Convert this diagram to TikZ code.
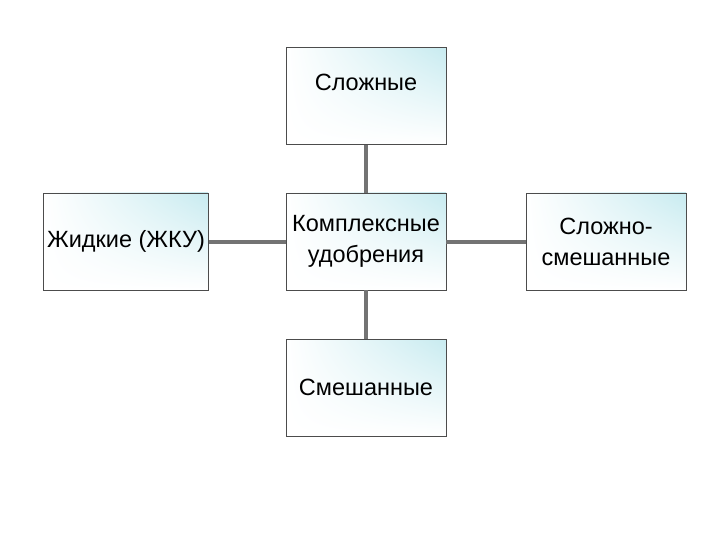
\documentclass[tikz,border=0pt]{standalone}
\usepackage{fontspec}
\setmainfont{Liberation Sans}
\usetikzlibrary{shadings}
\definecolor{lc}{RGB}{200,235,240}
\begin{document}
\begin{tikzpicture}[x=1pt,y=-1pt,
  bx/.style={draw=black!70,line width=0.8pt,minimum width=160pt,minimum height=97pt,align=center,font=\fontsize{23.5}{31}\selectfont,
    upper right=lc,upper left=white,lower left=white,lower right=white},
  ln/.style={draw=black!55,line width=4pt}]
\useasboundingbox (0,0) rectangle (720,540);
\node[bx] (c) at (366,241.5) {Комплексные\\удобрения};
\node[bx,text depth=28pt] (t) at (366,96) {Сложные};
\node[bx] (b) at (366,387.5) {Смешанные};
\node[bx] (l) at (126,241.5) {Жидкие (ЖКУ)};
\node[bx] (r) at (606,241.5) {Сложно-\\смешанные};
\draw[ln] (t.south) -- (c.north);
\draw[ln] (c.south) -- (b.north);
\draw[ln] (l.east) -- (c.west);
\draw[ln] (c.east) -- (r.west);
\end{tikzpicture}
\end{document}
